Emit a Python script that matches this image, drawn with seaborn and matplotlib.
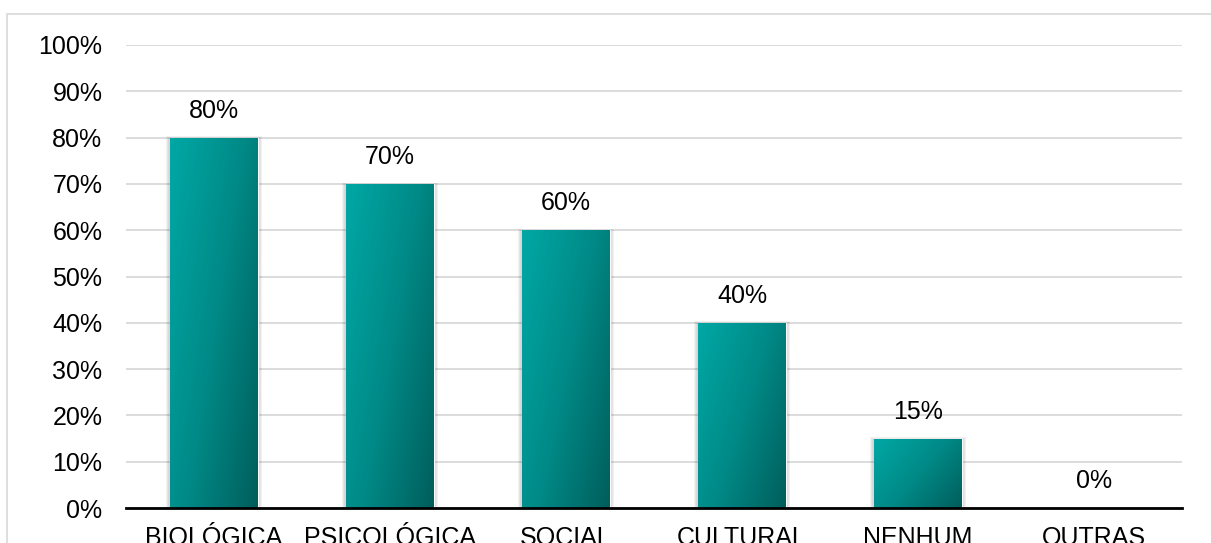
import numpy as np
import pandas as pd
import matplotlib
matplotlib.use("Agg")
import matplotlib.pyplot as plt
import seaborn as sns
from matplotlib.colors import LinearSegmentedColormap
from matplotlib.patches import Rectangle

categories = ["BIOLÓGICA", "PSICOLÓGICA", "SOCIAL", "CULTURAL", "NENHUM", "OUTRAS"]
values = [80, 70, 60, 40, 15, 0]
yticks = [0, 10, 20, 30, 40, 50, 60, 70, 80, 90, 100]
ytick_labels = [f"{v}%" for v in yticks]

sns.set_theme(style="white")
plt.rcParams["font.family"] = ["Liberation Sans", "DejaVu Sans"]

W, H = 1211, 543
FS = 18
fig = plt.figure(figsize=(W / 100, H / 100), dpi=100)
ax = fig.add_axes([126 / W, (H - 508) / H, (1182 - 126) / W, (508 - 45) / H])

df = pd.DataFrame({"cat": categories, "val": values})
sns.barplot(data=df, x="cat", y="val", ax=ax, width=0.5, color="#00908D",
            saturation=1, zorder=3)

ax.set_xlim(-0.5, len(categories) - 0.5)
ax.set_ylim(0, 100)
ax.set_yticks(yticks)
ax.set_yticklabels(ytick_labels, fontsize=FS, color="#000000")
ax.set_xticks(range(len(categories)))
ax.set_xticklabels(categories, fontsize=FS, color="#000000")
ax.tick_params(axis="x", length=0, pad=13)
ax.tick_params(axis="y", length=0, pad=17)
ax.set_xlabel("")
ax.set_ylabel("")

ax.grid(axis="y", color="#D9D9D9", linewidth=1.3, zorder=0)
ax.set_axisbelow(True)
for s in ["top", "right", "left"]:
    ax.spines[s].set_visible(False)
ax.spines["bottom"].set_color("#000000")
ax.spines["bottom"].set_linewidth(2)
ax.spines["bottom"].set_zorder(6)

# diagonal teal gradient on each bar with a soft drop shadow
cmap = LinearSegmentedColormap.from_list("teal", ["#00A8A5", "#008A87", "#005E5C"])
gy, gx = np.mgrid[0:1:200j, 0:1:200j]
grad = (gx * 0.6 + gy * 0.4)
for bar in ax.patches:
    x0, y0 = bar.get_x(), bar.get_y()
    w, h = bar.get_width(), bar.get_height()
    if h <= 0:
        continue
    for k in range(4):
        dx = 0.006 * (k + 1)
        sh = Rectangle((x0 - dx, y0), w + 2 * dx, h + 0.15 * (k + 1) - 0.3,
                       facecolor="#000000", alpha=0.05, edgecolor="none", zorder=2)
        ax.add_patch(sh)
    im = ax.imshow(grad, cmap=cmap, extent=[x0, x0 + w, y0, y0 + h],
                   origin="upper", aspect="auto", zorder=4, interpolation="bilinear")
    im.set_clip_path(bar)
    bar.set_facecolor("none")

for i, v in enumerate(values):
    ax.text(i, v + 3.2, f"{v}%", ha="center", va="bottom", fontsize=FS, color="#000000", zorder=7)

# chart-area border
fig.patches.append(Rectangle((7 / W, -0.1), 1.2, (H - 14) / H + 0.1, transform=fig.transFigure,
                             facecolor="none", edgecolor="#D9D9D9", linewidth=1.2, zorder=0))

fig.savefig("out.png", dpi=100)
